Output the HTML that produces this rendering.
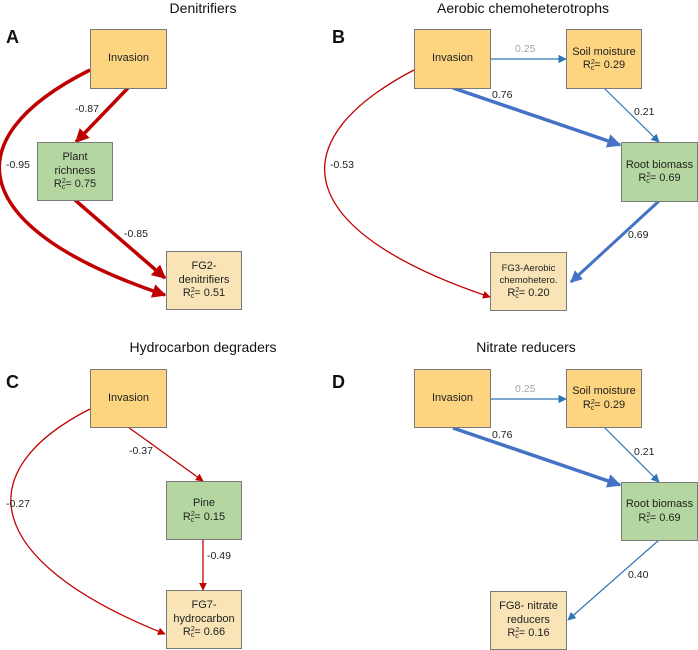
<!DOCTYPE html>
<html><head><meta charset="utf-8"><style>
body{margin:0;background:#fff;}
#c{position:relative;width:698px;height:650px;overflow:hidden;font-family:"Liberation Sans",sans-serif;}
.n{position:absolute;box-sizing:border-box;border:1px solid #7a7a7a;display:flex;align-items:center;justify-content:center;text-align:center;font-size:11px;line-height:13.5px;color:#222;}
.n>div{display:block;}
.o{background:#fdd47f;}.g{background:#b4d7a1;}.t{background:#f8e4b6;}
.n sup{font-size:7px;vertical-align:4px;line-height:0;}
.n sub{font-size:7px;vertical-align:-2px;line-height:0;margin-left:-4px;}
.ti{position:absolute;font-size:14px;color:#111;transform:translateX(-50%);white-space:nowrap;}
.L{position:absolute;font-size:18px;font-weight:bold;color:#111;}
.l{position:absolute;font-size:10.5px;color:#222;}
svg{position:absolute;left:0;top:0;}
</style></head><body><div id="c">
<svg width="698" height="650">
<defs>
<marker id="r" viewBox="0 0 10 10" refX="9" refY="5" markerWidth="4" markerHeight="4" orient="auto" markerUnits="strokeWidth"><path d="M0,0L10,5L0,10z" fill="#c00000"/></marker>
<marker id="rs" viewBox="0 0 10 10" refX="9" refY="5" markerWidth="6" markerHeight="6" orient="auto" markerUnits="strokeWidth"><path d="M0,0L10,5L0,10z" fill="#c00000"/></marker>
<marker id="b" viewBox="0 0 10 10" refX="9" refY="5" markerWidth="4" markerHeight="4" orient="auto" markerUnits="strokeWidth"><path d="M0,0L10,5L0,10z" fill="#4472c4"/></marker>
<marker id="bs" viewBox="0 0 10 10" refX="9" refY="5" markerWidth="7" markerHeight="7" orient="auto" markerUnits="strokeWidth"><path d="M0,0L10,5L0,10z" fill="#2e75b6"/></marker>
</defs>
<g fill="none">
<path d="M128,88L76,142" stroke="#c00000" stroke-width="3.5" marker-end="url(#r)"/>
<path d="M75,200L165,278" stroke="#c00000" stroke-width="3.5" marker-end="url(#r)"/>
<path d="M90,70C-50,140 -30,230 165,295" stroke="#c00000" stroke-width="3.5" marker-end="url(#r)"/>
<path d="M491,59L566,59" stroke="#2e75b6" stroke-width="1.2" marker-end="url(#bs)"/>
<path d="M604,88L659,142" stroke="#2e75b6" stroke-width="1.2" marker-end="url(#bs)"/>
<path d="M453,88L620,145" stroke="#4472c4" stroke-width="3.5" marker-end="url(#b)"/>
<path d="M659,201L571,282" stroke="#4472c4" stroke-width="3" marker-end="url(#b)"/>
<path d="M414,70C280,140 290,230 490,297" stroke="#c00000" stroke-width="1.3" marker-end="url(#rs)"/>
<path d="M128,427L203,481" stroke="#c00000" stroke-width="1.3" marker-end="url(#rs)"/>
<path d="M203,539L203,590" stroke="#c00000" stroke-width="1.3" marker-end="url(#rs)"/>
<path d="M90,409C-30,470 -20,560 165,634" stroke="#c00000" stroke-width="1.3" marker-end="url(#rs)"/>
<path d="M491,399L566,399" stroke="#2e75b6" stroke-width="1.2" marker-end="url(#bs)"/>
<path d="M604,427L659,482" stroke="#2e75b6" stroke-width="1.2" marker-end="url(#bs)"/>
<path d="M453,428L620,485" stroke="#4472c4" stroke-width="3.5" marker-end="url(#b)"/>
<path d="M659,540L568,620" stroke="#2e75b6" stroke-width="1.2" marker-end="url(#bs)"/>
</g>
</svg>
<div class="ti" style="left:203px;top:0px">Denitrifiers</div>
<div class="ti" style="left:523px;top:0px">Aerobic chemoheterotrophs</div>
<div class="ti" style="left:203px;top:339px">Hydrocarbon degraders</div>
<div class="ti" style="left:526px;top:339px">Nitrate reducers</div>
<div class="L" style="left:6px;top:27px">A</div>
<div class="L" style="left:332px;top:27px">B</div>
<div class="L" style="left:6px;top:372px">C</div>
<div class="L" style="left:332px;top:372px">D</div>

<div class="n o" style="left:90px;top:29px;width:77px;height:60px"><div>Invasion</div></div>
<div class="n g" style="left:37px;top:142px;width:76px;height:59px"><div>Plant<br>richness<br>R<sup>2</sup><sub>c</sub>= 0.75</div></div>
<div class="n t" style="left:166px;top:251px;width:76px;height:59px"><div>FG2-<br>denitrifiers<br>R<sup>2</sup><sub>c</sub>= 0.51</div></div>
<div class="l" style="left:75px;top:103px">-0.87</div>
<div class="l" style="left:6px;top:159px">-0.95</div>
<div class="l" style="left:124px;top:228px">-0.85</div>

<div class="n o" style="left:414px;top:29px;width:77px;height:60px"><div>Invasion</div></div>
<div class="n o" style="left:566px;top:29px;width:76px;height:60px"><div>Soil moisture<br>R<sup>2</sup><sub>c</sub>= 0.29</div></div>
<div class="n g" style="left:621px;top:142px;width:77px;height:60px"><div>Root biomass<br>R<sup>2</sup><sub>c</sub>= 0.69</div></div>
<div class="n t" style="left:490px;top:252px;width:77px;height:59px;font-size:9.5px;line-height:12px"><div>FG3-Aerobic<br>chemohetero.<br><span style="font-size:11px">R<sup>2</sup><sub>c</sub>= 0.20</span></div></div>
<div class="l" style="left:515px;top:43px;color:#a6a6a6">0.25</div>
<div class="l" style="left:492px;top:89px">0.76</div>
<div class="l" style="left:634px;top:106px">0.21</div>
<div class="l" style="left:628px;top:229px">0.69</div>
<div class="l" style="left:330px;top:159px">-0.53</div>

<div class="n o" style="left:90px;top:369px;width:77px;height:59px"><div>Invasion</div></div>
<div class="n g" style="left:166px;top:481px;width:76px;height:59px"><div>Pine<br>R<sup>2</sup><sub>c</sub>= 0.15</div></div>
<div class="n t" style="left:166px;top:590px;width:76px;height:59px"><div>FG7-<br>hydrocarbon<br>R<sup>2</sup><sub>c</sub>= 0.66</div></div>
<div class="l" style="left:129px;top:445px">-0.37</div>
<div class="l" style="left:6px;top:498px">-0.27</div>
<div class="l" style="left:207px;top:550px">-0.49</div>

<div class="n o" style="left:414px;top:369px;width:77px;height:59px"><div>Invasion</div></div>
<div class="n o" style="left:566px;top:369px;width:76px;height:59px"><div>Soil moisture<br>R<sup>2</sup><sub>c</sub>= 0.29</div></div>
<div class="n g" style="left:621px;top:482px;width:77px;height:59px"><div>Root biomass<br>R<sup>2</sup><sub>c</sub>= 0.69</div></div>
<div class="n t" style="left:490px;top:591px;width:77px;height:59px"><div>FG8- nitrate<br>reducers<br>R<sup>2</sup><sub>c</sub>= 0.16</div></div>
<div class="l" style="left:515px;top:383px;color:#a6a6a6">0.25</div>
<div class="l" style="left:492px;top:429px">0.76</div>
<div class="l" style="left:634px;top:446px">0.21</div>
<div class="l" style="left:628px;top:569px">0.40</div>
</div></body></html>
